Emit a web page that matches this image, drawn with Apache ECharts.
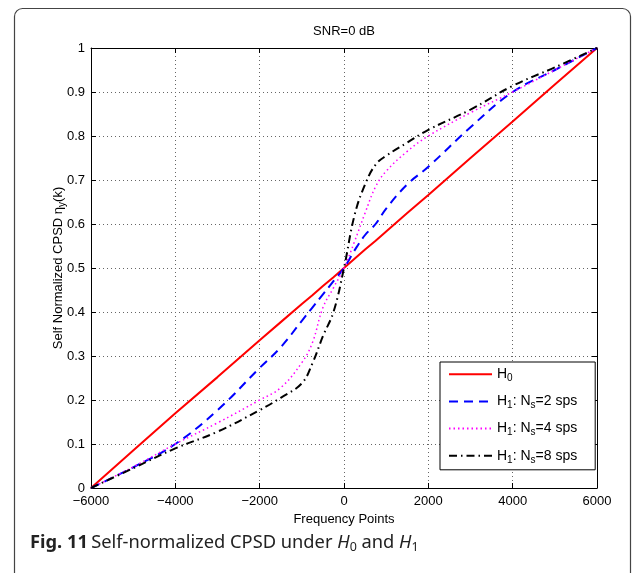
<!DOCTYPE html>
<html>
<head>
<meta charset="utf-8">
<script src="https://cdn.jsdelivr.net/npm/echarts@6/dist/echarts.min.js"></script>
<style>
html, body { margin: 0; padding: 0; background: #fff; }
#main { width: 637px; height: 573px; }
</style>
</head>
<body>
<div id="main"></div>
<script>
// frequency points (shared by all curves)
const xPoints = [-6000, -5000, -4000, -3000, -2000, -1500, -1000, -750, -500, -250, 0, 250, 500, 750, 1000, 1500, 2000, 3000, 4000, 5000, 6000];
// H0
const h0 = [0, 0.085, 0.17, 0.252, 0.336, 0.377, 0.418, 0.438, 0.459, 0.479, 0.5, 0.521, 0.542, 0.562, 0.583, 0.625, 0.666, 0.75, 0.833, 0.917, 1];
// H1, Ns = 2 sps
const ns2 = [0, 0.047, 0.10, 0.177, 0.273, 0.32, 0.38, 0.41, 0.44, 0.47, 0.50, 0.54, 0.575, 0.60, 0.635, 0.69, 0.73, 0.82, 0.90, 0.95, 1];
// H1, Ns = 4 sps
const ns4 = [0, 0.048, 0.10, 0.148, 0.20, 0.228, 0.285, 0.33, 0.41, 0.455, 0.50, 0.56, 0.625, 0.685, 0.72, 0.765, 0.80, 0.853, 0.90, 0.95, 1];
// H1, Ns = 8 sps
const ns8 = [0, 0.045, 0.09, 0.128, 0.177, 0.205, 0.238, 0.283, 0.345, 0.40, 0.50, 0.62, 0.69, 0.735, 0.755, 0.785, 0.814, 0.86, 0.914, 0.956, 1];

const seriesNames = ['H0', 'H1: Ns=2 sps', 'H1: Ns=4 sps', 'H1: Ns=8 sps'];
const legendLabels = {
  'H0': '{t|H}{s|0}',
  'H1: Ns=2 sps': '{t|H}{s|1}{t|: N}{s|s}{t|=2 sps}',
  'H1: Ns=4 sps': '{t|H}{s|1}{t|: N}{s|s}{t|=4 sps}',
  'H1: Ns=8 sps': '{t|H}{s|1}{t|: N}{s|s}{t|=8 sps}'
};

const pairs = arr => xPoints.map((x, i) => [x, arr[i]]);
const font = 'Liberation Sans, Arial, sans-serif';

var chart = echarts.init(document.getElementById('main'));

var boxAxis = {
  axisLine: { onZero: false, lineStyle: { color: '#000', width: 1 } },
  axisTick: { inside: true, length: 5, lineStyle: { color: '#000' } },
  axisLabel: { show: false }, splitLine: { show: false }
};

var option = {
  backgroundColor: '#fff',
  animation: false,
  grid: { left: 91, top: 48, width: 506, height: 440 },
  xAxis: [{
    type: 'value', min: -6000, max: 6000, interval: 2000,
    name: 'Frequency Points', nameLocation: 'middle', nameGap: 25, nameMoveOverlap: false,
    nameTextStyle: { color: '#000', fontSize: 13, fontFamily: font },
    axisLine: { onZero: false, lineStyle: { color: '#000', width: 1 } },
    axisTick: { inside: true, length: 5, lineStyle: { color: '#000' } },
    axisLabel: { color: '#000', fontSize: 13, fontFamily: font, margin: 7,
      formatter: v => (v < 0 ? '\u2212' + Math.abs(v) : String(v)) },
    splitLine: { show: true, lineStyle: { color: '#666', type: [1, 3], width: 1 } }
  }, Object.assign({
    type: 'value', min: -6000, max: 6000, interval: 2000, position: 'top'
  }, boxAxis)],
  yAxis: [{
    type: 'value', min: 0, max: 1, interval: 0.1,
    name: '{a|Self Normalized CPSD η}{s|y}{a|(k)}', nameLocation: 'middle', nameGap: 24,
    nameMoveOverlap: false,
    nameTextStyle: { color: '#000', fontFamily: font,
      rich: { a: { fontSize: 13, fontFamily: font, color: '#000' },
              s: { fontSize: 10, fontFamily: font, color: '#000', padding: [7, 0, 0, 0] } } },
    axisLine: { onZero: false, lineStyle: { color: '#000', width: 1 } },
    axisTick: { inside: true, length: 5, lineStyle: { color: '#000' } },
    axisLabel: { color: '#000', fontSize: 13, fontFamily: font, margin: 6,
      formatter: v => (v === 0 || v === 1 ? String(v) : v.toFixed(1)) },
    splitLine: { show: true, lineStyle: { color: '#666', type: [1, 3], width: 1 } }
  }, Object.assign({
    type: 'value', min: 0, max: 1, interval: 0.1, position: 'right'
  }, boxAxis)],
  legend: {
    orient: 'vertical', left: 440, top: 362,
    data: seriesNames,
    backgroundColor: '#fff', borderColor: '#000', borderWidth: 1, borderRadius: 0,
    padding: [5, 18, 5, 8], itemGap: 11, itemWidth: 43, itemHeight: 18,
    itemStyle: { opacity: 0 },
    formatter: name => legendLabels[name],
    textStyle: {
      rich: {
        t: { fontSize: 14, fontFamily: font, color: '#000' },
        s: { fontSize: 10, fontFamily: font, color: '#000', padding: [8, 0, 0, 0] }
      }
    }
  },
  graphic: [
    { type: 'rect', silent: true,
      shape: { x: 14.5, y: 8.5, width: 616, height: 700, r: 8 },
      style: { fill: 'none', stroke: '#444', lineWidth: 1.2 } },
    { type: 'text', x: 344, y: 31,
      style: { text: 'SNR=0 dB', font: '13px ' + font, fill: '#000', align: 'center', verticalAlign: 'middle' } },
    { type: 'text', x: 30, y: 543,
      style: {
        text: '{b|Fig. 11} {n|Self-normalized CPSD under }{i|H}{s|0}{n| and }{i|H}{s|1}',
        align: 'left', verticalAlign: 'middle',
        rich: {
          b: { fontSize: 18.3, fontWeight: 'bold', fontFamily: 'Noto Sans', fill: '#222' },
          n: { fontSize: 18.3, fontFamily: 'Noto Sans', fill: '#222' },
          i: { fontSize: 18.3, fontStyle: 'italic', fontFamily: 'Noto Sans', fill: '#222' },
          s: { fontSize: 12.5, fontFamily: 'Noto Sans', fill: '#222', padding: [8, 0, 0, 0] }
        }
      } }
  ],
  series: [
    { name: 'H0', type: 'line', data: pairs(h0), showSymbol: false, symbol: 'none',
      smooth: false, color: '#ff0000',
      lineStyle: { color: '#ff0000', width: 2 } },
    { name: 'H1: Ns=2 sps', type: 'line', data: pairs(ns2), showSymbol: false, symbol: 'none',
      smooth: 0.4, color: '#0000ff',
      lineStyle: { color: '#0000ff', width: 2, type: [9, 6] } },
    { name: 'H1: Ns=4 sps', type: 'line', data: pairs(ns4), showSymbol: false, symbol: 'none',
      smooth: 0.4, color: '#ff00ff',
      lineStyle: { color: '#ff00ff', width: 1.5, type: [1.5, 3] } },
    { name: 'H1: Ns=8 sps', type: 'line', data: pairs(ns8), showSymbol: false, symbol: 'none',
      smooth: 0.4, color: '#000000',
      lineStyle: { color: '#000000', width: 2, type: [8, 4, 1.5, 4] } }
  ]
};

option && chart.setOption(option);
</script>
</body>
</html>
